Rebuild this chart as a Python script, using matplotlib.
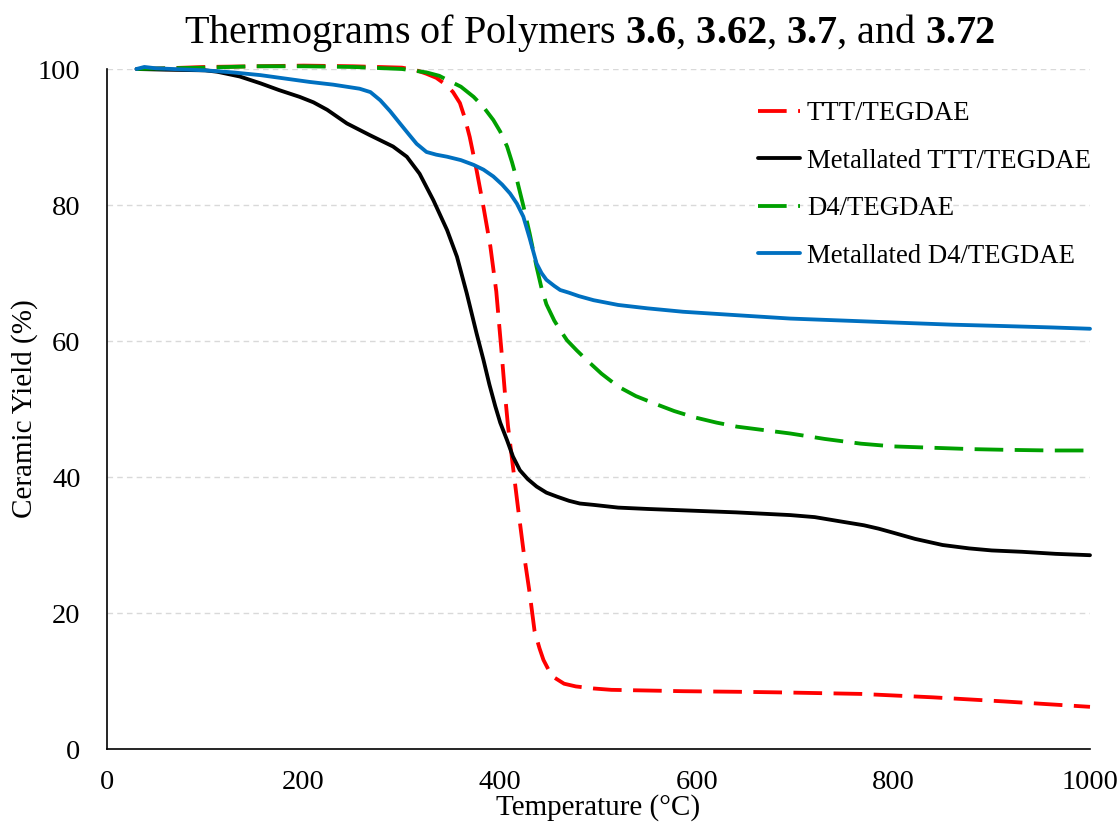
import matplotlib
matplotlib.use("Agg")
import matplotlib.pyplot as plt

plt.rcParams['font.family'] = ['Liberation Serif', 'DejaVu Serif']
plt.rcParams['mathtext.fontset'] = 'custom'
plt.rcParams['mathtext.rm'] = 'Liberation Serif'
plt.rcParams['mathtext.bf'] = 'Liberation Serif:bold'

# ---------------- data ----------------
ttt_T = [30, 60, 100, 150, 200, 250, 300, 315, 325, 335, 345.6, 352, 359, 364, 369, 376, 383, 390,
         396, 401.5, 405, 408, 413, 418, 424, 430, 435, 440, 444, 449, 454, 465, 477, 495, 513,
         550, 586, 650, 695, 767, 840, 912, 1000]
ttt_Y = [100, 100.1, 100.3, 100.4, 100.5, 100.4, 100.2, 99.8, 99.3, 98.7, 97.6, 96.6, 95.0, 92.8,
         90.0, 85.1, 79.7, 73.9, 67.3, 58.2, 52.0, 47.4, 41.5, 35.6, 28.8, 22.9, 17.3, 14.8, 13.1,
         11.7, 10.6, 9.6, 9.2, 8.9, 8.7, 8.6, 8.5, 8.4, 8.3, 8.1, 7.6, 7.0, 6.2]

mttt_T = [30, 60, 100, 112, 135, 156, 175, 196, 210, 224, 244, 267, 291, 305, 318, 332, 346, 356,
          366, 376, 383, 389, 395, 400, 407, 413, 420, 428, 437, 447, 458, 470, 481, 495, 520,
          550, 586, 640, 695, 720, 749, 770, 785, 800, 822, 850, 877, 900, 931, 965, 1000]
mttt_Y = [100, 99.9, 99.8, 99.6, 98.9, 97.9, 96.9, 95.9, 95.1, 94.0, 92.0, 90.3, 88.6, 87.1, 84.6,
          80.7, 76.3, 72.4, 67.0, 61.1, 57.2, 53.6, 50.4, 48.0, 45.4, 43.0, 41.0, 39.7, 38.6, 37.7,
          37.1, 36.5, 36.1, 35.9, 35.5, 35.3, 35.1, 34.8, 34.4, 34.1, 33.4, 32.9, 32.4, 31.8, 30.9,
          30.0, 29.5, 29.2, 29.0, 28.7, 28.5]

d4_T = [30, 60, 100, 150, 200, 250, 300, 325, 338, 346, 360, 373, 383, 393, 400, 407, 412, 417,
        423.5, 430, 437, 442, 447, 455, 461, 468, 478, 488, 503, 520, 538, 557, 577, 597, 620, 641,
        668, 695, 730, 767, 800, 840, 880, 913, 960, 1000]
d4_Y = [100, 100.1, 100.2, 100.4, 100.4, 100.3, 100.0, 99.5, 99.0, 98.4, 97.4, 95.9, 94.4, 92.5,
        90.8, 88.6, 86.3, 83.7, 79.9, 75.8, 70.9, 67.8, 65.4, 63.0, 61.6, 60.1, 58.6, 57.2, 55.2,
        53.3, 51.9, 50.8, 49.7, 48.8, 48.0, 47.4, 46.9, 46.4, 45.6, 44.9, 44.5, 44.3, 44.1, 44.0,
        43.9, 43.9]

md4_T = [30, 38, 50, 100, 128, 156, 206, 230, 257, 268, 278, 288, 298, 307, 315, 325, 335, 346, 360,
         373, 383, 393, 402, 410, 417, 423.5, 430, 437, 442, 447, 455, 461, 470, 480, 495, 520, 550,
         586, 640, 695, 750, 804, 860, 912, 960, 1000]
md4_Y = [100, 100.3, 100.1, 99.8, 99.5, 99.1, 98.1, 97.7, 97.1, 96.6, 95.4, 93.8, 92.0, 90.4, 89.0,
         87.8, 87.4, 87.1, 86.6, 85.9, 85.2, 84.2, 83.0, 81.7, 80.2, 78.3, 75.1, 71.4, 70.0, 69.0,
         68.1, 67.5, 67.1, 66.6, 66.0, 65.3, 64.8, 64.3, 63.8, 63.3, 63.0, 62.7, 62.4, 62.2, 62.0,
         61.8]

labels = ["TTT/TEGDAE", "Metallated TTT/TEGDAE", "D4/TEGDAE", "Metallated D4/TEGDAE"]
colors = ["#FF0000", "#000000", "#00A000", "#0070C0"]
x_ticks = [0, 200, 400, 600, 800, 1000]
y_ticks = [0, 20, 40, 60, 80, 100]

# ---------------- figure ----------------
W, H = 1118, 822
fig = plt.figure(figsize=(W / 100, H / 100), dpi=100)
ax_l, ax_r, ax_t, ax_b = 107, 1090, 69, 749
ax = fig.add_axes([ax_l / W, 1 - ax_b / H, (ax_r - ax_l) / W, (ax_b - ax_t) / H])

lw = 2.75
dash = (0, (7.5, 3))
series = [(ttt_T, ttt_Y, dash), (mttt_T, mttt_Y, '-'), (d4_T, d4_Y, dash), (md4_T, md4_Y, '-')]
for (T, Y, ls), lab, c in zip(series, labels, colors):
    ax.plot(T, Y, color=c, lw=lw, linestyle=ls, label=lab, clip_on=False,
            solid_joinstyle='round', solid_capstyle='round')

ax.set_xlim(0, 1000)
ax.set_ylim(0, 100)
ax.set_xticks(x_ticks)
ax.set_yticks(y_ticks)
ax.tick_params(axis='both', length=0, labelsize=20.5)
ax.tick_params(axis='y', pad=19)
ax.tick_params(axis='x', pad=15)

for g in y_ticks[1:]:
    ax.axhline(g, color='#D9D9D9', lw=1.0, linestyle=(0, (4, 3)), zorder=0)

for s in ['top', 'right']:
    ax.spines[s].set_visible(False)
for s in ['left', 'bottom']:
    ax.spines[s].set_color('black')
    ax.spines[s].set_linewidth(1.2)

ax.set_xlabel("Temperature (°C)", fontsize=21)
ax.set_ylabel("Ceramic Yield (%)", fontsize=21)
ax.xaxis.set_label_coords(0.5, (ax_b - 808) / (ax_b - ax_t))
ax.xaxis.label.set_va('center')
ax.yaxis.set_label_coords((25 - ax_l) / (ax_r - ax_l), 0.5)
ax.yaxis.label.set_va('center')

fig.text(590 / W, 1 - 43 / H,
         r"Thermograms of Polymers $\mathbf{3.6}$, $\mathbf{3.62}$, $\mathbf{3.7}$, and $\mathbf{3.72}$",
         fontsize=29, ha='center', va='baseline')

leg = ax.legend(loc='upper left', bbox_to_anchor=(758 / W, 1 - 101 / H),
                bbox_transform=fig.transFigure, frameon=False, fontsize=19.3,
                handlelength=1.55, handletextpad=0.28, labelspacing=0.84,
                borderpad=0, borderaxespad=0)

fig.savefig("out.png", dpi=100)
